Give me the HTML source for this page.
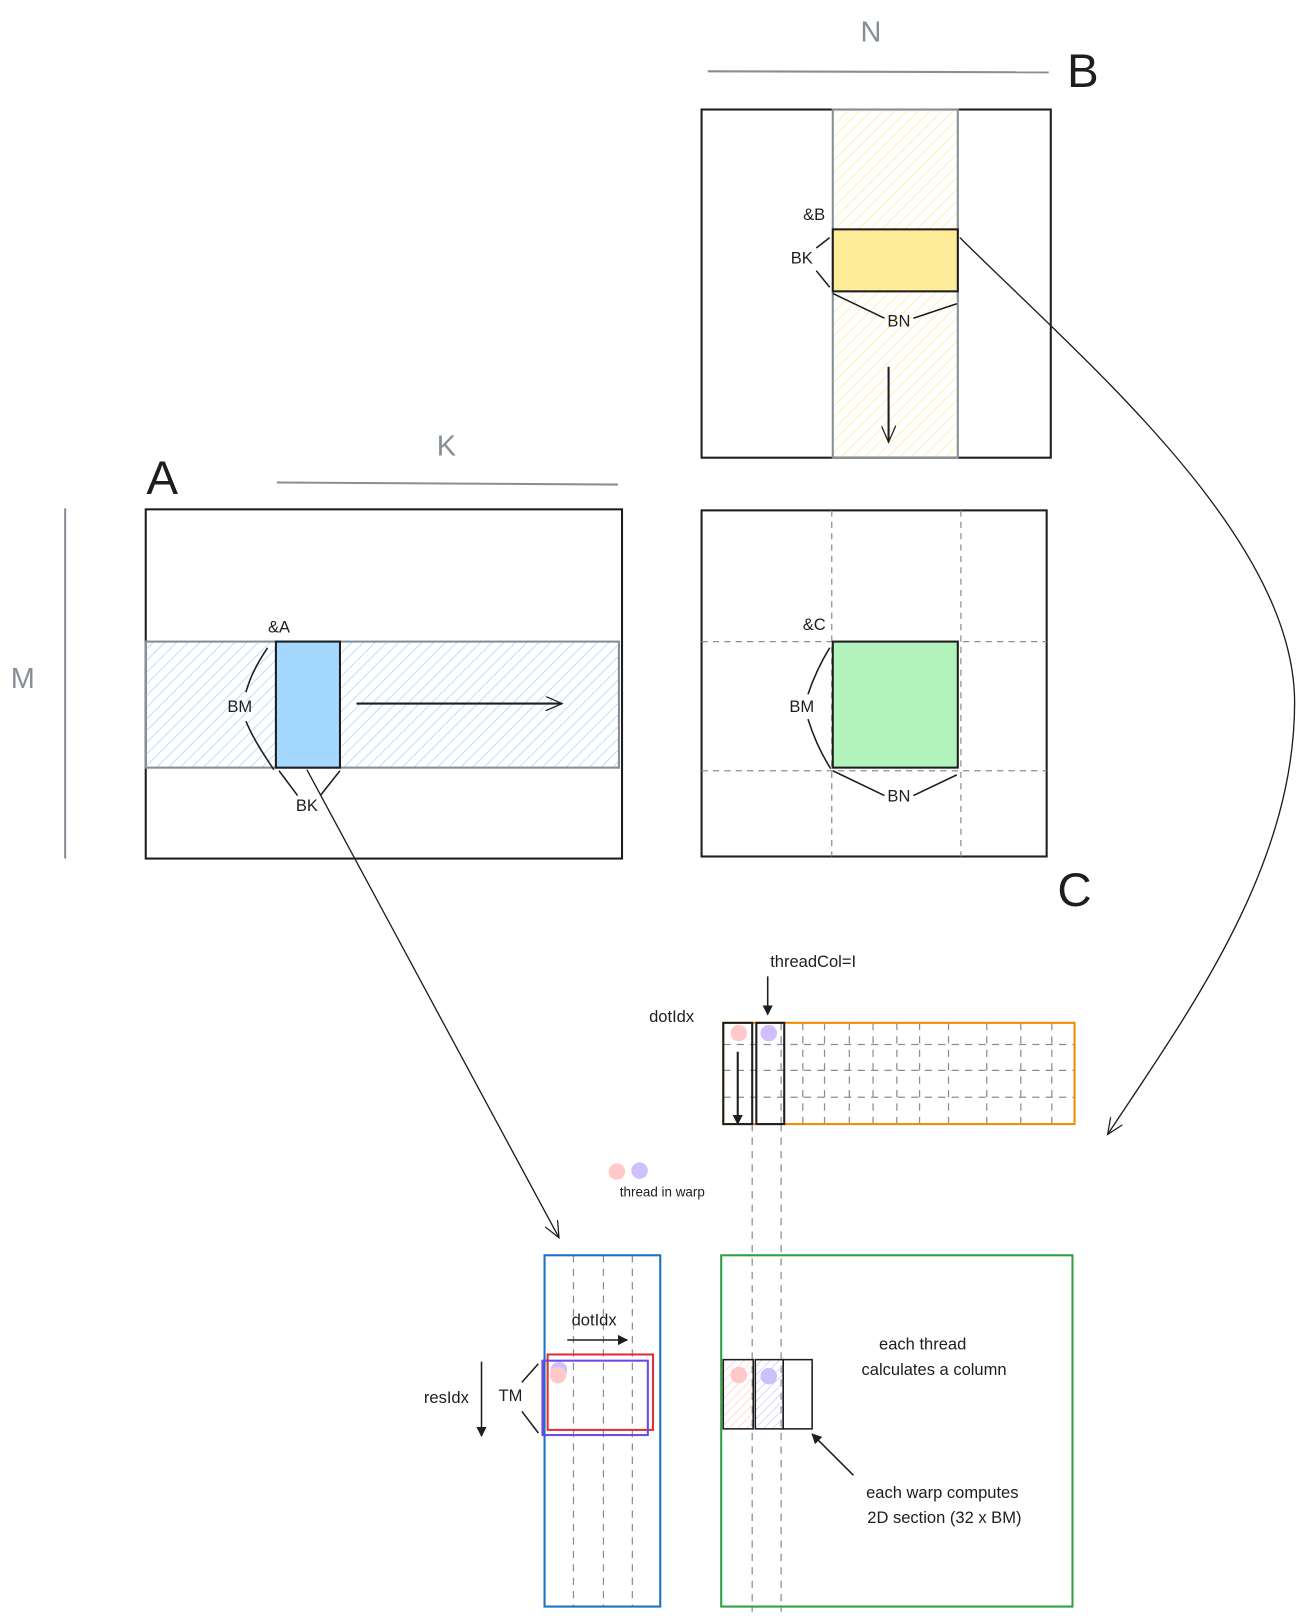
<!DOCTYPE html>
<html><head><meta charset="utf-8"><style>
html,body{margin:0;padding:0;background:#fff;}
svg{display:block;}
text{font-family:"Liberation Sans",sans-serif;fill:#1e1e1e;}
</style></head><body>
<svg width="1305" height="1620" viewBox="0 0 1263 1568" xmlns="http://www.w3.org/2000/svg">
<defs>
<pattern id="hy" width="8" height="8" patternUnits="userSpaceOnUse" patternTransform="rotate(45)"><line x1="0" y1="0" x2="0" y2="8" stroke="#ffec99" stroke-width="1.5"/></pattern>
<pattern id="hb" width="8" height="8" patternUnits="userSpaceOnUse" patternTransform="rotate(45)"><line x1="0" y1="0" x2="0" y2="8" stroke="#a5d8ff" stroke-width="1.5"/></pattern>
<pattern id="hp" width="6" height="6" patternUnits="userSpaceOnUse" patternTransform="rotate(45)"><line x1="0" y1="0" x2="0" y2="6" stroke="#ffc9c9" stroke-width="1.3"/></pattern>
<pattern id="hv" width="6" height="6" patternUnits="userSpaceOnUse" patternTransform="rotate(45)"><line x1="0" y1="0" x2="0" y2="6" stroke="#d0bfff" stroke-width="1.3"/></pattern>
<marker id="ah" markerWidth="10" markerHeight="10" refX="9" refY="5" orient="auto" markerUnits="userSpaceOnUse"><path d="M0,0 L10,5 L0,10 z" fill="#1e1e1e"/></marker>
<marker id="ao" markerWidth="18" markerHeight="14" refX="16" refY="7" orient="auto" markerUnits="userSpaceOnUse"><path d="M0,0 L16,7 L0,14" fill="none" stroke="#1e1e1e" stroke-width="1.2"/></marker>
</defs>

<!-- B -->
<text x="843" y="40" font-size="28" fill="#868e96" text-anchor="middle" style="fill:#868e96">N</text>
<line x1="685" y1="69" x2="1015" y2="70" stroke="#868e96" stroke-width="2"/>
<text x="1048" y="84" font-size="46" text-anchor="middle">B</text>
<rect x="679" y="106" width="338" height="337" fill="none" stroke="#1e1e1e" stroke-width="2"/>
<rect x="806" y="106" width="121" height="337" fill="url(#hy)" stroke="#868e96" stroke-width="2"/>
<rect x="806" y="222" width="121" height="60" fill="#ffec99" stroke="#1e1e1e" stroke-width="2"/>
<text x="788" y="213" font-size="16" text-anchor="middle">&amp;B</text>
<text x="776" y="255" font-size="16" text-anchor="middle">BK</text>
<text x="870" y="316" font-size="16" text-anchor="middle">BN</text>
<path d="M803,230 L790,240 M790,262 L803,278 M806,284 L856,308 M884,308 L926,294" stroke="#1e1e1e" fill="none" stroke-width="1.5"/>
<line x1="860" y1="355" x2="860" y2="428" stroke="#1e1e1e" stroke-width="2" marker-end="url(#ao)"/>

<!-- A -->
<text x="432" y="441" font-size="28" text-anchor="middle" style="fill:#868e96">K</text>
<line x1="268" y1="467" x2="598" y2="469" stroke="#868e96" stroke-width="2"/>
<text x="157" y="478" font-size="46" text-anchor="middle">A</text>
<text x="22" y="666" font-size="28" text-anchor="middle" style="fill:#868e96">M</text>
<line x1="63" y1="492" x2="63" y2="831" stroke="#868e96" stroke-width="2"/>
<rect x="141" y="493" width="461" height="338" fill="none" stroke="#1e1e1e" stroke-width="2"/>
<rect x="141" y="621" width="458" height="122" fill="url(#hb)" stroke="#868e96" stroke-width="2"/>
<rect x="267" y="621" width="62" height="122" fill="#a5d8ff" stroke="#1e1e1e" stroke-width="2"/>
<text x="270" y="612" font-size="16" text-anchor="middle">&amp;A</text>
<text x="232" y="689" font-size="16" text-anchor="middle">BM</text>
<text x="297" y="785" font-size="16" text-anchor="middle">BK</text>
<path d="M259,627 C250,640 242,655 238,670 M238,698 C245,715 255,730 265,745 M270,746 L288,770 M310,770 L329,746" stroke="#1e1e1e" fill="none" stroke-width="1.5"/>
<line x1="345" y1="681" x2="544" y2="681" stroke="#1e1e1e" stroke-width="2" marker-end="url(#ao)"/>

<!-- C -->
<rect x="679" y="494" width="334" height="335" fill="none" stroke="#1e1e1e" stroke-width="2"/>
<g stroke="#868e96" stroke-dasharray="6,5" stroke-width="1.2">
<line x1="805" y1="494" x2="805" y2="829"/><line x1="930" y1="494" x2="930" y2="829"/>
<line x1="679" y1="621" x2="1013" y2="621"/><line x1="679" y1="746" x2="1013" y2="746"/>
</g>
<rect x="806" y="621" width="121" height="122" fill="#b2f2bb" stroke="#1e1e1e" stroke-width="2"/>
<text x="788" y="610" font-size="16" text-anchor="middle">&amp;C</text>
<text x="776" y="689" font-size="16" text-anchor="middle">BM</text>
<text x="870" y="776" font-size="16" text-anchor="middle">BN</text>
<path d="M803,627 C792,645 786,660 782,672 M782,696 C788,715 795,730 804,744 M806,746 L856,770 M884,770 L926,750" stroke="#1e1e1e" fill="none" stroke-width="1.5"/>
<text x="1040" y="877" font-size="46" text-anchor="middle">C</text>

<!-- connectors -->
<path d="M929,230 C1050,350 1253,520 1253,680 C1253,840 1150,980 1072,1098" fill="none" stroke="#1e1e1e" stroke-width="1.3" marker-end="url(#ao)"/>
<line x1="297" y1="745" x2="541" y2="1198" stroke="#1e1e1e" stroke-width="1.3" marker-end="url(#ao)"/>

<!-- B tile -->
<text x="787" y="936" font-size="16" text-anchor="middle">threadCol=I</text>
<line x1="743" y1="945" x2="743" y2="982" stroke="#1e1e1e" stroke-width="1.5" marker-end="url(#ah)"/>
<text x="650" y="989" font-size="16" text-anchor="middle">dotIdx</text>
<g stroke="#868e96" stroke-dasharray="7,6" stroke-width="1.2">
<line x1="700" y1="1011" x2="1040" y2="1011"/><line x1="700" y1="1036" x2="1040" y2="1036"/><line x1="700" y1="1062" x2="1040" y2="1062"/>
<line x1="777" y1="990" x2="777" y2="1088"/><line x1="798" y1="990" x2="798" y2="1088"/><line x1="822" y1="990" x2="822" y2="1088"/><line x1="845" y1="990" x2="845" y2="1088"/><line x1="868" y1="990" x2="868" y2="1088"/><line x1="890" y1="990" x2="890" y2="1088"/><line x1="918" y1="990" x2="918" y2="1088"/><line x1="955" y1="990" x2="955" y2="1088"/><line x1="988" y1="990" x2="988" y2="1088"/><line x1="1018" y1="990" x2="1018" y2="1088"/>
<line x1="728" y1="1088" x2="728" y2="1560"/><line x1="756" y1="1088" x2="756" y2="1560"/>
<line x1="728" y1="990" x2="728" y2="1088"/><line x1="756" y1="990" x2="756" y2="1088"/>
</g>
<rect x="700" y="990" width="340" height="98" fill="none" stroke="#f08c00" stroke-width="2"/>
<rect x="700" y="990" width="28" height="98" fill="none" stroke="#1e1e1e" stroke-width="2"/>
<rect x="732" y="990" width="27" height="98" fill="none" stroke="#1e1e1e" stroke-width="2"/>
<circle cx="715" cy="1000" r="8" fill="#ffc9c9"/>
<circle cx="744" cy="1000" r="8" fill="#d0bfff"/>
<line x1="714" y1="1018" x2="714" y2="1088" stroke="#1e1e1e" stroke-width="2" marker-end="url(#ah)"/>

<circle cx="597" cy="1134" r="8" fill="#ffc9c9"/>
<circle cx="619" cy="1133" r="8" fill="#d0bfff"/>
<text x="641" y="1158" font-size="13" text-anchor="middle">thread in warp</text>

<!-- A tile -->
<g stroke="#868e96" stroke-dasharray="7,6" stroke-width="1.2">
<line x1="555" y1="1215" x2="555" y2="1555"/><line x1="584" y1="1215" x2="584" y2="1555"/><line x1="612" y1="1215" x2="612" y2="1555"/>
</g>
<rect x="527" y="1215" width="112" height="340" fill="none" stroke="#1971c2" stroke-width="2"/>
<text x="575" y="1283" font-size="16" text-anchor="middle">dotIdx</text>
<line x1="549" y1="1297" x2="607" y2="1297" stroke="#1e1e1e" stroke-width="1.5" marker-end="url(#ah)"/>
<circle cx="541" cy="1326" r="8" fill="#d0bfff"/>
<circle cx="540" cy="1331" r="8" fill="#ffc9c9"/>
<rect x="530" y="1311" width="102" height="73" fill="none" stroke="#e03131" stroke-width="2"/>
<rect x="525" y="1317" width="102" height="72" fill="none" stroke="#7048e8" stroke-width="2"/>
<text x="432" y="1358" font-size="16" text-anchor="middle">resIdx</text>
<line x1="466" y1="1318" x2="466" y2="1390" stroke="#1e1e1e" stroke-width="1.5" marker-end="url(#ah)"/>
<text x="494" y="1356" font-size="16" text-anchor="middle">TM</text>
<path d="M521,1320 L505,1338 M505,1366 L521,1387" stroke="#1e1e1e" stroke-width="1.5" fill="none"/>

<!-- C tile -->
<rect x="698" y="1215" width="340" height="340" fill="none" stroke="#2f9e44" stroke-width="2"/>
<rect x="700" y="1316" width="29" height="67" fill="url(#hp)" stroke="#1e1e1e" stroke-width="1.5"/>
<rect x="731" y="1316" width="27" height="67" fill="url(#hv)" stroke="#1e1e1e" stroke-width="1.5"/>
<rect x="758" y="1316" width="28" height="67" fill="none" stroke="#1e1e1e" stroke-width="1.5"/>
<circle cx="715" cy="1331" r="8" fill="#ffc9c9"/>
<circle cx="744" cy="1332" r="8" fill="#d0bfff"/>
<text x="893" y="1306" font-size="16" text-anchor="middle">each thread</text>
<text x="904" y="1331" font-size="16" text-anchor="middle">calculates a column</text>
<line x1="826" y1="1428" x2="786" y2="1388" stroke="#1e1e1e" stroke-width="1.5" marker-end="url(#ah)"/>
<text x="912" y="1450" font-size="16" text-anchor="middle">each warp computes</text>
<text x="914" y="1474" font-size="16" text-anchor="middle">2D section (32 x BM)</text>
</svg>
</body></html>
